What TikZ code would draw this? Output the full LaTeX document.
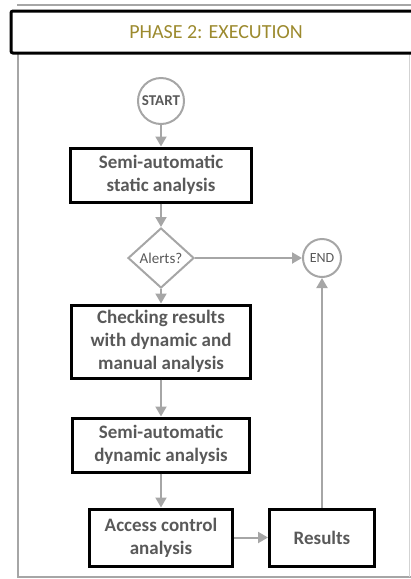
\documentclass[tikz,border=0pt]{standalone}
\usepackage{fontspec}
\setmainfont{Carlito}
\usepackage{tikz}
\usetikzlibrary{shapes.geometric}
\usetikzlibrary{arrows.meta}

\definecolor{linegray}{HTML}{A6A6A6}
\definecolor{textgray}{HTML}{595959}
\definecolor{phasegold}{HTML}{9C8A2E}

\begin{document}
\begin{tikzpicture}[x=1pt, y=-1pt,
    stepbox/.style={draw=black, line width=3pt, align=center, text=textgray,
        font=\fontsize{19}{23}\selectfont\bfseries, inner sep=0pt},
    terminal/.style={circle, draw=linegray, line width=2pt, inner sep=0pt, text=textgray},
    flow/.style={draw=linegray, line width=2pt, -{Triangle[length=10pt,width=11pt]}}
  ]
    \useasboundingbox (0,0) rectangle (411,579);

    % frame
    \draw[linegray, line width=1.5pt] (17,5) -- (411,5);
    \draw[linegray, line width=1.5pt] (18,53) -- (18,577) -- (411,577);
    \draw[linegray!50, line width=1pt] (409,53) -- (409,577);
    \draw[black, line width=3pt, rounded corners=2pt] (11,11) rectangle (420,53);
    \node[text=phasegold, font=\fontsize{20}{24}\selectfont] (phase) at (216,32) {PHASE 2: EXECUTION};

    \node[terminal, minimum size=46pt, font=\fontsize{15}{18}\selectfont\bfseries] (start) at (161,101) {START};
    \node[stepbox, minimum width=181pt, minimum height=54pt] (static) at (161,175) {Semi-automatic\\static analysis};
    \node[diamond, draw=linegray, line width=2pt, minimum width=66pt, minimum height=60pt, inner sep=0pt,
        text=textgray, font=\fontsize{15}{18}\selectfont] (alerts) at (161,258) {Alerts?};
    \node[terminal, minimum size=38pt, font=\fontsize{14}{17}\selectfont] (end) at (322,258) {END};
    \node[stepbox, minimum width=179pt, minimum height=73pt] (checking) at (161,341.5) {Checking results\\with dynamic and\\manual analysis};
    \node[stepbox, minimum width=177pt, minimum height=54pt] (dynamic) at (161,445) {Semi-automatic\\dynamic analysis};
    \node[stepbox, minimum width=143pt, minimum height=57pt] (access) at (161,537.5) {Access control\\analysis};
    \node[stepbox, minimum width=105pt, minimum height=57pt] (results) at (322,537.5) {Results};

    \draw[flow] (start) -- (static);
    \draw[flow] (static) -- (alerts);
    \draw[flow] (alerts) -- (end);
    \draw[flow] (alerts) -- (checking);
    \draw[flow] (checking) -- (dynamic);
    \draw[flow] (dynamic) -- (access);
    \draw[flow] (access) -- (results);
    \draw[flow] (results) -- (end);

\end{tikzpicture}
\end{document}
